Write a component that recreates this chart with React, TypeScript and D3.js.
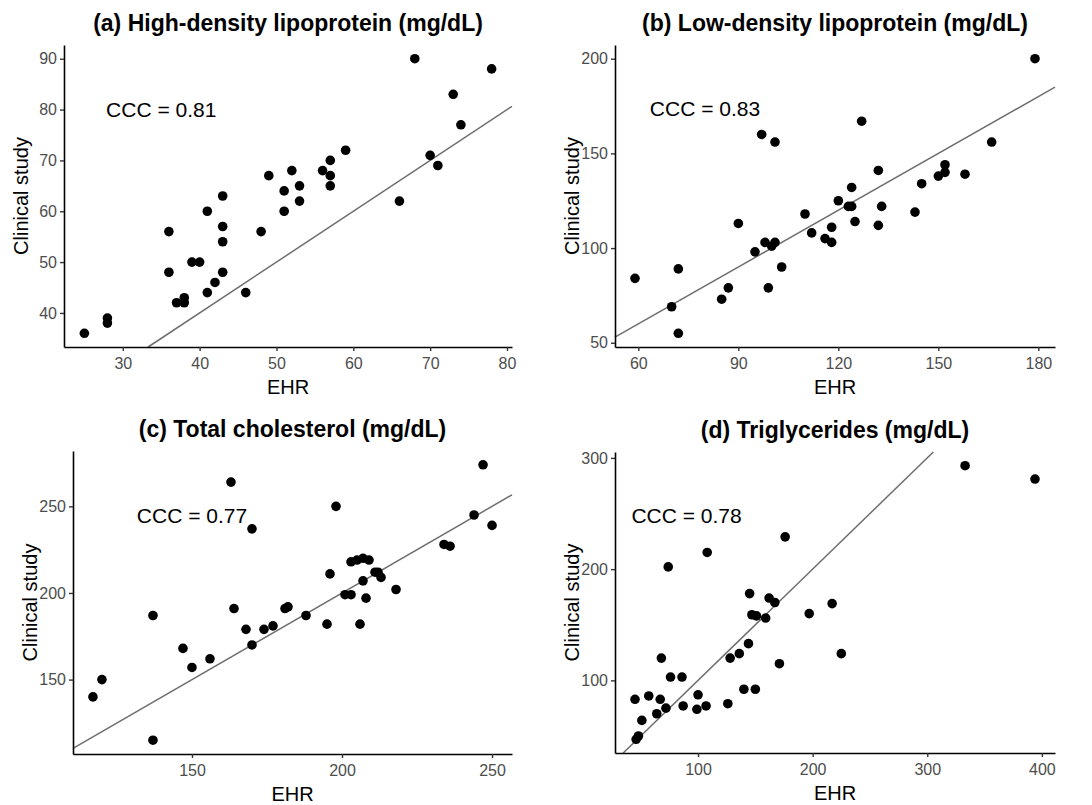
import React, { useRef, useEffect } from "react";
import * as d3 from "d3";

// (a) HDL
const hdlEhr = [25, 28, 28, 36, 36, 37, 38, 38, 39, 40, 41, 41, 42, 43, 43, 43, 43, 46, 48, 49, 51, 51, 52, 53, 53, 56, 57, 57, 57, 59, 66, 68, 70, 71, 73, 74, 78];
const hdlClin = [36, 39, 38, 56, 48, 42, 43, 42, 50, 50, 60, 44, 46, 63, 57, 54, 48, 44, 56, 67, 64, 60, 68, 65, 62, 68, 70, 67, 65, 72, 62, 90, 71, 69, 83, 77, 88];

// (b) LDL
const ldlEhr = [59, 70, 72, 72, 85, 87, 90, 95, 97, 98, 99, 100, 101, 101, 103, 110, 112, 116, 118, 118, 120, 123, 124, 124, 125, 127, 132, 132, 133, 143, 145, 150, 152, 152, 158, 166, 179];
const ldlClin = [84, 69, 89, 55, 73, 79, 113, 98, 160, 103, 79, 101, 103, 156, 90, 118, 108, 105, 111, 103, 125, 122, 132, 122, 114, 167, 141, 112, 122, 119, 134, 138, 140, 144, 139, 156, 200];

// (c) Total cholesterol
const tcEhr = [117, 120, 137, 137, 147, 150, 156, 163, 164, 168, 170, 170, 174, 177, 181, 182, 188, 195, 196, 198, 201, 203, 203, 205, 206, 207, 207, 208, 209, 211, 212, 213, 218, 234, 236, 244, 247, 250];
const tcClin = [140, 150, 115, 187, 168, 157, 162, 264, 191, 179, 170, 237, 179, 181, 191, 192, 187, 182, 211, 250, 199, 199, 218, 219, 182, 220, 207, 197, 219, 212, 212, 209, 202, 228, 227, 245, 274, 239];

// (d) Triglycerides
const tgEhr = [45, 46, 48, 51, 57, 64, 67, 68, 72, 74, 76, 86, 87, 99, 100, 107, 108, 126, 128, 136, 140, 144, 145, 147, 150, 151, 159, 162, 167, 171, 176, 197, 217, 225, 333, 394];
const tgClin = [83, 47, 50, 64, 86, 70, 83, 120, 75, 202, 103, 103, 77, 74, 87, 77, 215, 79, 120, 124, 92, 133, 178, 159, 92, 158, 156, 174, 170, 115, 229, 160, 169, 124, 293, 281];

const titles = [
  "(a) High-density lipoprotein (mg/dL)",
  "(b) Low-density lipoprotein (mg/dL)",
  "(c) Total cholesterol (mg/dL)",
  "(d) Triglycerides (mg/dL)",
];
const cccLabels = ["CCC = 0.81", "CCC = 0.83", "CCC = 0.77", "CCC = 0.78"];
const cccX = [35, 80, 150, 90];
const cccY = [80, 174, 245, 248];
const xTickSets = [
  [30, 40, 50, 60, 70, 80],
  [60, 90, 120, 150, 180],
  [150, 200, 250],
  [100, 200, 300, 400],
];
const yTickSets = [
  [40, 50, 60, 70, 80, 90],
  [50, 100, 150, 200],
  [150, 200, 250],
  [100, 200, 300],
];

const width = 1092;
const height = 805;

// plot boxes [left, top, right, bottom]
const boxes = [
  [64, 45, 512, 347],
  [615, 45, 1055, 347],
  [73, 451, 512, 754],
  [615, 452, 1055, 753],
];

const font = "'Liberation Sans', Arial, sans-serif";

// ggplot style 5% expansion
const expand = (vals: number[]) => {
  const [lo, hi] = d3.extent(vals) as [number, number];
  const pad = (hi - lo) * 0.05;
  return [lo - pad, hi + pad];
};

const App = () => {
  const container = useRef<SVGSVGElement>(null);

  useEffect(() => {
    const svg = d3.select(container.current);
    svg.selectAll("*").remove();

    const panels = [
      { ehr: hdlEhr, clin: hdlClin },
      { ehr: ldlEhr, clin: ldlClin },
      { ehr: tcEhr, clin: tcClin },
      { ehr: tgEhr, clin: tgClin },
    ];

    panels.forEach((p, i) => {
      const [left, top, right, bottom] = boxes[i];
      const x = d3.scaleLinear().domain(expand(p.ehr)).range([left, right]);
      const y = d3.scaleLinear().domain(expand(p.clin)).range([bottom, top]);
      const g = svg.append("g");

      // identity line, cut to the panel
      const [x0, x1] = x.domain();
      const [y0, y1] = y.domain();
      const lo = Math.max(x0, y0);
      const hi = Math.min(x1, y1);
      g.append("line")
        .attr("x1", x(lo))
        .attr("y1", y(lo))
        .attr("x2", x(hi))
        .attr("y2", y(hi))
        .attr("stroke", "#6e6e6e")
        .attr("stroke-width", 1.5);

      // points
      g.selectAll("circle")
        .data(p.ehr.map((v, j) => [v, p.clin[j]]))
        .enter()
        .append("circle")
        .attr("cx", (d) => x(d[0]))
        .attr("cy", (d) => y(d[1]))
        .attr("r", 4.8)
        .attr("fill", "black");

      // axes
      const xAxis = g
        .append("g")
        .attr("transform", `translate(0, ${bottom})`)
        .call(d3.axisBottom(x).tickValues(xTickSets[i]).tickSize(4).tickSizeOuter(0).tickPadding(7));
      const yAxis = g
        .append("g")
        .attr("transform", `translate(${left}, 0)`)
        .call(d3.axisLeft(y).tickValues(yTickSets[i]).tickSize(4).tickSizeOuter(0).tickPadding(3));
      [xAxis, yAxis].forEach((a) => {
        a.select(".domain").attr("stroke", "black").attr("stroke-width", 1.6);
        a.selectAll(".tick line").attr("stroke", "#333").attr("stroke-width", 1.4);
        a.selectAll(".tick text")
          .attr("fill", "#4d4d4d")
          .style("font-size", "16px")
          .style("font-family", font);
      });

      // title
      g.append("text")
        .attr("x", (left + right) / 2)
        .attr("y", top - 14)
        .attr("text-anchor", "middle")
        .style("font-family", font)
        .style("font-size", "23px")
        .style("font-weight", "bold")
        .text(titles[i]);

      // axis titles
      g.append("text")
        .attr("x", (left + right) / 2)
        .attr("y", bottom + 47)
        .attr("text-anchor", "middle")
        .style("font-family", font)
        .style("font-size", "20px")
        .text("EHR");
      g.append("text")
        .attr("transform", `translate(${left - 36}, ${(top + bottom) / 2}) rotate(-90)`)
        .attr("text-anchor", "middle")
        .style("font-family", font)
        .style("font-size", "20px")
        .text("Clinical study");

      // CCC annotation
      g.append("text")
        .attr("x", x(cccX[i]))
        .attr("y", y(cccY[i]))
        .attr("dy", "0.36em")
        .attr("text-anchor", "middle")
        .style("font-family", font)
        .style("font-size", "21px")
        .text(cccLabels[i]);
    });
  }, []);

  return (
    <div style={{ width: width, height: height, position: "absolute", left: 0, top: 0 }}>
      <svg ref={container} width={width} height={height} style={{ background: "white", display: "block" }} />
    </div>
  );
};

export default App;
